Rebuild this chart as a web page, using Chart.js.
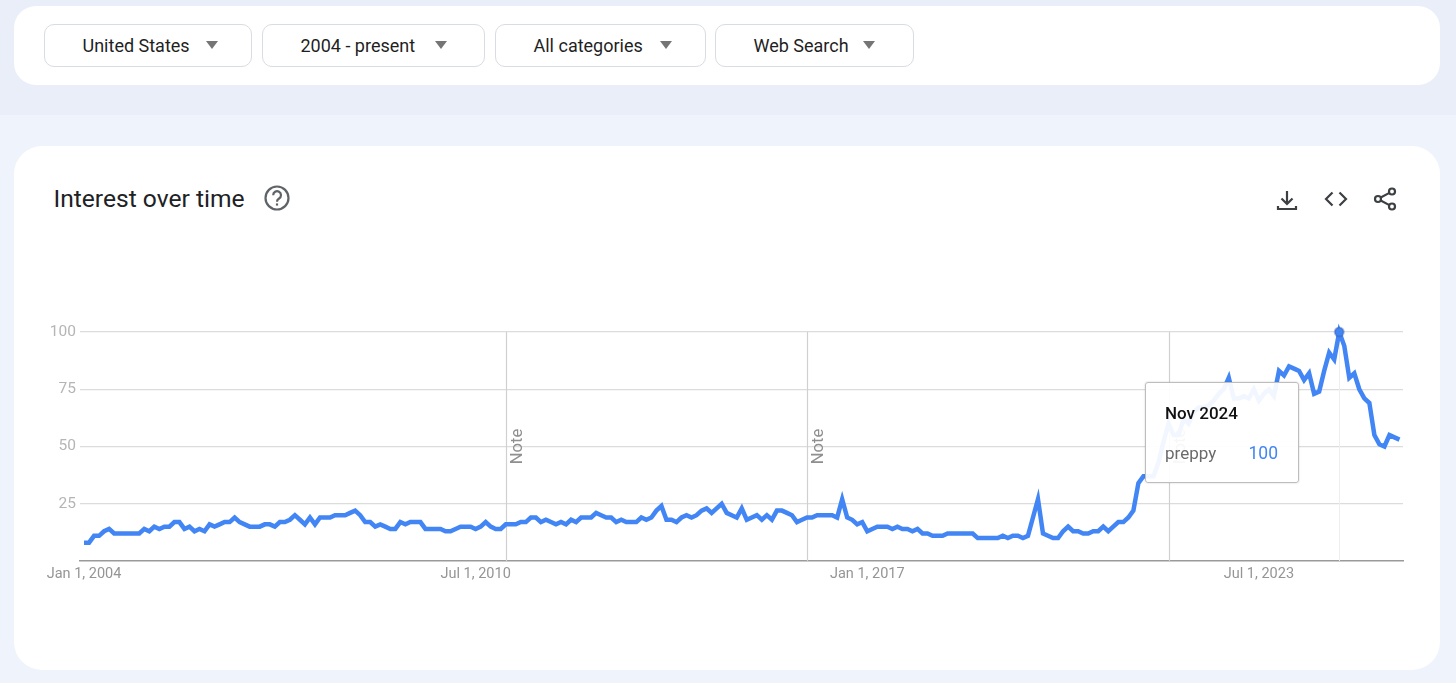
<!DOCTYPE html>
<html>
<head>
<meta charset="utf-8">
<title>Interest over time</title>
<script src="https://cdn.jsdelivr.net/npm/chart.js@4"></script>
<style>
  html, body { margin: 0; padding: 0; }
  body {
    width: 1456px; height: 683px; position: relative; overflow: hidden;
    background: #eff3fb; font-family: Roboto, sans-serif; color: #202124;
  }
  .band { position: absolute; left: 0; top: 0; width: 1456px; height: 115px; background: #e9eef9; }
  .card { position: absolute; left: 14px; width: 1426px; background: #fff; }
  #filters { top: 6px; height: 79px; border-radius: 22px; }
  #panel { top: 146px; height: 524px; border-radius: 28px; }
  .pill {
    position: absolute; top: 24px; height: 41px; box-sizing: content-box;
    border: 1px solid #d9dce1; border-radius: 10px; background: #fff;
  }
  .pill span { position: absolute; top: 0; line-height: 41px; font-size: 18px; white-space: nowrap; color: #1f1f1f; }
  .pill i {
    position: absolute; top: 16px; width: 0; height: 0;
    border-left: 6.500px solid transparent; border-right: 6.500px solid transparent; border-top: 8px solid #757575;
  }
  #title { position: absolute; left: 53.500px; top: 183px; font-size: 24.600px; line-height: 32px; white-space: nowrap; }
  svg.icon { position: absolute; fill: none; stroke: #3c4043; stroke-width: 2.2; }
  #wrap { position: absolute; left: 0; top: 300px; width: 1456px; height: 320px; }
  #tip {
    position: absolute; left: 1145px; top: 382px; width: 152px; height: 99px;
    background: rgba(255,255,255,.93); border: 1px solid #bdbdbd; border-radius: 3px;
    box-shadow: 0 0 2px rgba(0,0,0,.2);
  }
  #tip b { position: absolute; left: 19px; top: 20px; font-size: 17px; font-weight: 500; color: #111; line-height: 20px; white-space: nowrap; }
  #tip .k { position: absolute; left: 19px; top: 60px; font-size: 17px; color: #6a6a6a; line-height: 20px; }
  #tip .v { position: absolute; right: 20px; top: 60px; font-size: 17.500px; color: #4285f4; line-height: 20px; }
</style>
</head>
<body>
<div class="band"></div>
<div class="card" id="filters"></div>
<div class="card" id="panel"></div>

<div class="pill" style="left:43.500px;width:206px"><span style="left:38px">United States</span><i style="left:161.500px"></i></div>
<div class="pill" style="left:261.500px;width:221px"><span style="left:38px">2004 - present</span><i style="left:172px"></i></div>
<div class="pill" style="left:494.500px;width:209px"><span style="left:38px">All categories</span><i style="left:164.500px"></i></div>
<div class="pill" style="left:714.500px;width:197px"><span style="left:38px">Web Search</span><i style="left:147px"></i></div>

<div id="title">Interest over time</div>
<svg class="icon" style="left:263px;top:184px;stroke:#5f6368" width="28" height="28" viewBox="0 0 28 28">
  <circle cx="14" cy="14" r="11.5"/>
  <path d="M10.2 11.2a3.9 3.9 0 1 1 5.9 3.3c-1.4.9-2.1 1.5-2.1 3.2"/>
  <path d="M14 19.4v2.2"/>
</svg>
<svg class="icon" style="left:1275px;top:188px" width="24" height="24" viewBox="0 0 24 24">
  <path d="M12 3v13M6.5 10.5l5.5 5.5 5.5-5.5M3 18v3h18v-3"/>
</svg>
<svg class="icon" style="left:1324px;top:187px" width="24" height="24" viewBox="0 0 24 24">
  <path d="M8.500 5.500L2 12l6.500 6.500M15.500 5.500L22 12l-6.500 6.500"/>
</svg>
<svg class="icon" style="left:1373px;top:187px" width="24" height="24" viewBox="0 0 24 24">
  <circle cx="5" cy="12" r="3"/><circle cx="19" cy="4.500" r="3"/><circle cx="19" cy="19.500" r="3"/>
  <path d="M7.700 10.500l8.700-4.600M7.700 13.500l8.700 4.600"/>
</svg>

<div id="wrap"><canvas id="trend"></canvas></div>

<div id="tip"><b>Nov 2024</b><span class="k">preppy</span><span class="v">100</span></div>

<script>
// monthly values, Jan 2004 onward, one row per year
const interest = [
  8, 8, 11, 11, 13, 14, 12, 12, 12, 12, 12, 12,
  14, 13, 15, 14, 15, 15, 17, 17, 14, 15, 13, 14,
  13, 16, 15, 16, 17, 17, 19, 17, 16, 15, 15, 15,
  16, 16, 15, 17, 17, 18, 20, 18, 16, 19, 16, 19,
  19, 19, 20, 20, 20, 21, 22, 20, 17, 17, 15, 16,
  15, 14, 14, 17, 16, 17, 17, 17, 14, 14, 14, 14,
  13, 13, 14, 15, 15, 15, 14, 15, 17, 15, 14, 14,
  16, 16, 16, 17, 17, 19, 19, 17, 18, 17, 16, 17,
  16, 18, 17, 19, 19, 19, 21, 20, 19, 19, 17, 18,
  17, 17, 17, 19, 18, 19, 22, 24, 18, 18, 17, 19,
  20, 19, 20, 22, 23, 21, 23, 25, 21, 20, 19, 23,
  18, 19, 20, 18, 20, 18, 22, 22, 21, 20, 17, 18,
  19, 19, 20, 20, 20, 20, 19, 27, 19, 18, 16, 17,
  13, 14, 15, 15, 15, 14, 15, 14, 14, 13, 14, 12,
  12, 11, 11, 11, 12, 12, 12, 12, 12, 12, 10, 10,
  10, 10, 10, 11, 10, 11, 11, 10, 11, 19, 27, 12,
  11, 10, 10, 13, 15, 13, 13, 12, 12, 13, 13, 15,
  13, 15, 17, 17, 19, 22, 34, 37, 37, 37, 43, 52,
  60, 55, 55, 62, 60, 65, 67, 67, 68, 70, 73, 75,
  80, 71, 71, 72, 71, 75, 70, 73, 75, 72, 83, 81,
  85, 84, 83, 79, 82, 73, 74, 83, 91, 88, 100, 94,
  80, 82, 75, 71, 69, 55, 51, 50, 55, 54, 53
];

const tickMonths = [0, 78, 156, 234];
const tickLabels = ["Jan 1, 2004", "Jul 1, 2010", "Jan 1, 2017", "Jul 1, 2023"];
const yTicks = [0, 25, 50, 75, 100];
const noteMonths = [84, 144, 216];
const hoverMonth = 250;

const BLUE = "#4285f4";

const notes = {
  id: "notes",
  beforeDatasetsDraw(chart) {
    const { ctx, chartArea, scales } = chart;
    ctx.save();
    // faint hover line
    ctx.strokeStyle = "#eeeeee";
    ctx.lineWidth = 1;
    let hx = Math.round(scales.x.getPixelForValue(hoverMonth)) + 0.5;
    ctx.beginPath();
    ctx.moveTo(hx, chartArea.top);
    ctx.lineTo(hx, chartArea.bottom);
    ctx.stroke();

    noteMonths.forEach(m => {
      const x = Math.round(scales.x.getPixelForValue(m)) + 0.5;
      ctx.strokeStyle = "#d0d0d0";
      ctx.lineWidth = 1.2;
      ctx.beginPath();
      ctx.moveTo(x, chartArea.top);
      ctx.lineTo(x, chartArea.bottom);
      ctx.stroke();

      ctx.save();
      ctx.translate(x + 11, scales.y.getPixelForValue(50));
      ctx.rotate(-Math.PI / 2);
      ctx.fillStyle = "#8f8f8f";
      ctx.font = "16.500px Roboto";
      ctx.textAlign = "center";
      ctx.textBaseline = "middle";
      ctx.fillText("Note", 0, 0);
      ctx.restore();
    });
    ctx.restore();
  },
};

new Chart(document.getElementById("trend"), {
  type: "line",
  data: {
    datasets: [{
      label: "preppy",
      data: interest.map((v, i) => ({ x: i, y: v })),
      borderColor: BLUE,
      backgroundColor: BLUE,
      borderWidth: 4.5,
      borderJoinStyle: "miter",
      borderCapStyle: "butt",
      tension: 0,
      clip: false,
      pointRadius: c => (c.dataIndex === hoverMonth ? 4.5 : 0),
      pointBorderWidth: 2,
      pointBorderColor: "rgba(60,90,170,.4)",
      pointBackgroundColor: BLUE,
    }],
  },
  options: {
    responsive: true,
    maintainAspectRatio: false,
    animation: false,
    events: [],
    layout: { padding: { top: 32, right: 53, left: 0, bottom: 0 } },
    plugins: { legend: { display: false }, tooltip: { enabled: false } },
    scales: {
      x: {
        type: "linear",
        min: -0.8,
        max: 262.7,
        afterBuildTicks: s => { s.ticks = tickMonths.map(v => ({ value: v })); },
        afterFit: s => { s.height = 59; },
        grid: { display: false, drawTicks: false },
        border: { color: "#9a9a9a", width: 1.5 },
        ticks: {
          autoSkip: false,
          maxRotation: 0,
          padding: 5,
          color: "#959595",
          font: { family: "Roboto", size: 14.5 },
          callback: v => tickLabels[tickMonths.indexOf(v)],
        },
      },
      y: {
        min: 0,
        max: 100,
        afterBuildTicks: s => { s.ticks = yTicks.map(v => ({ value: v })); },
        afterFit: s => { s.width = 80; },
        grid: { color: c => (c.tick.value === 0 ? "transparent" : "#dcdcdc"), lineWidth: 1.2, drawTicks: false },
        border: { display: false },
        ticks: {
          padding: 4,
          color: "#b5b5b5",
          font: { family: "Roboto", size: 15.5 },
          callback: v => (v === 0 ? "" : v),
        },
      },
    },
  },
  plugins: [notes],
});
</script>
</body>
</html>
